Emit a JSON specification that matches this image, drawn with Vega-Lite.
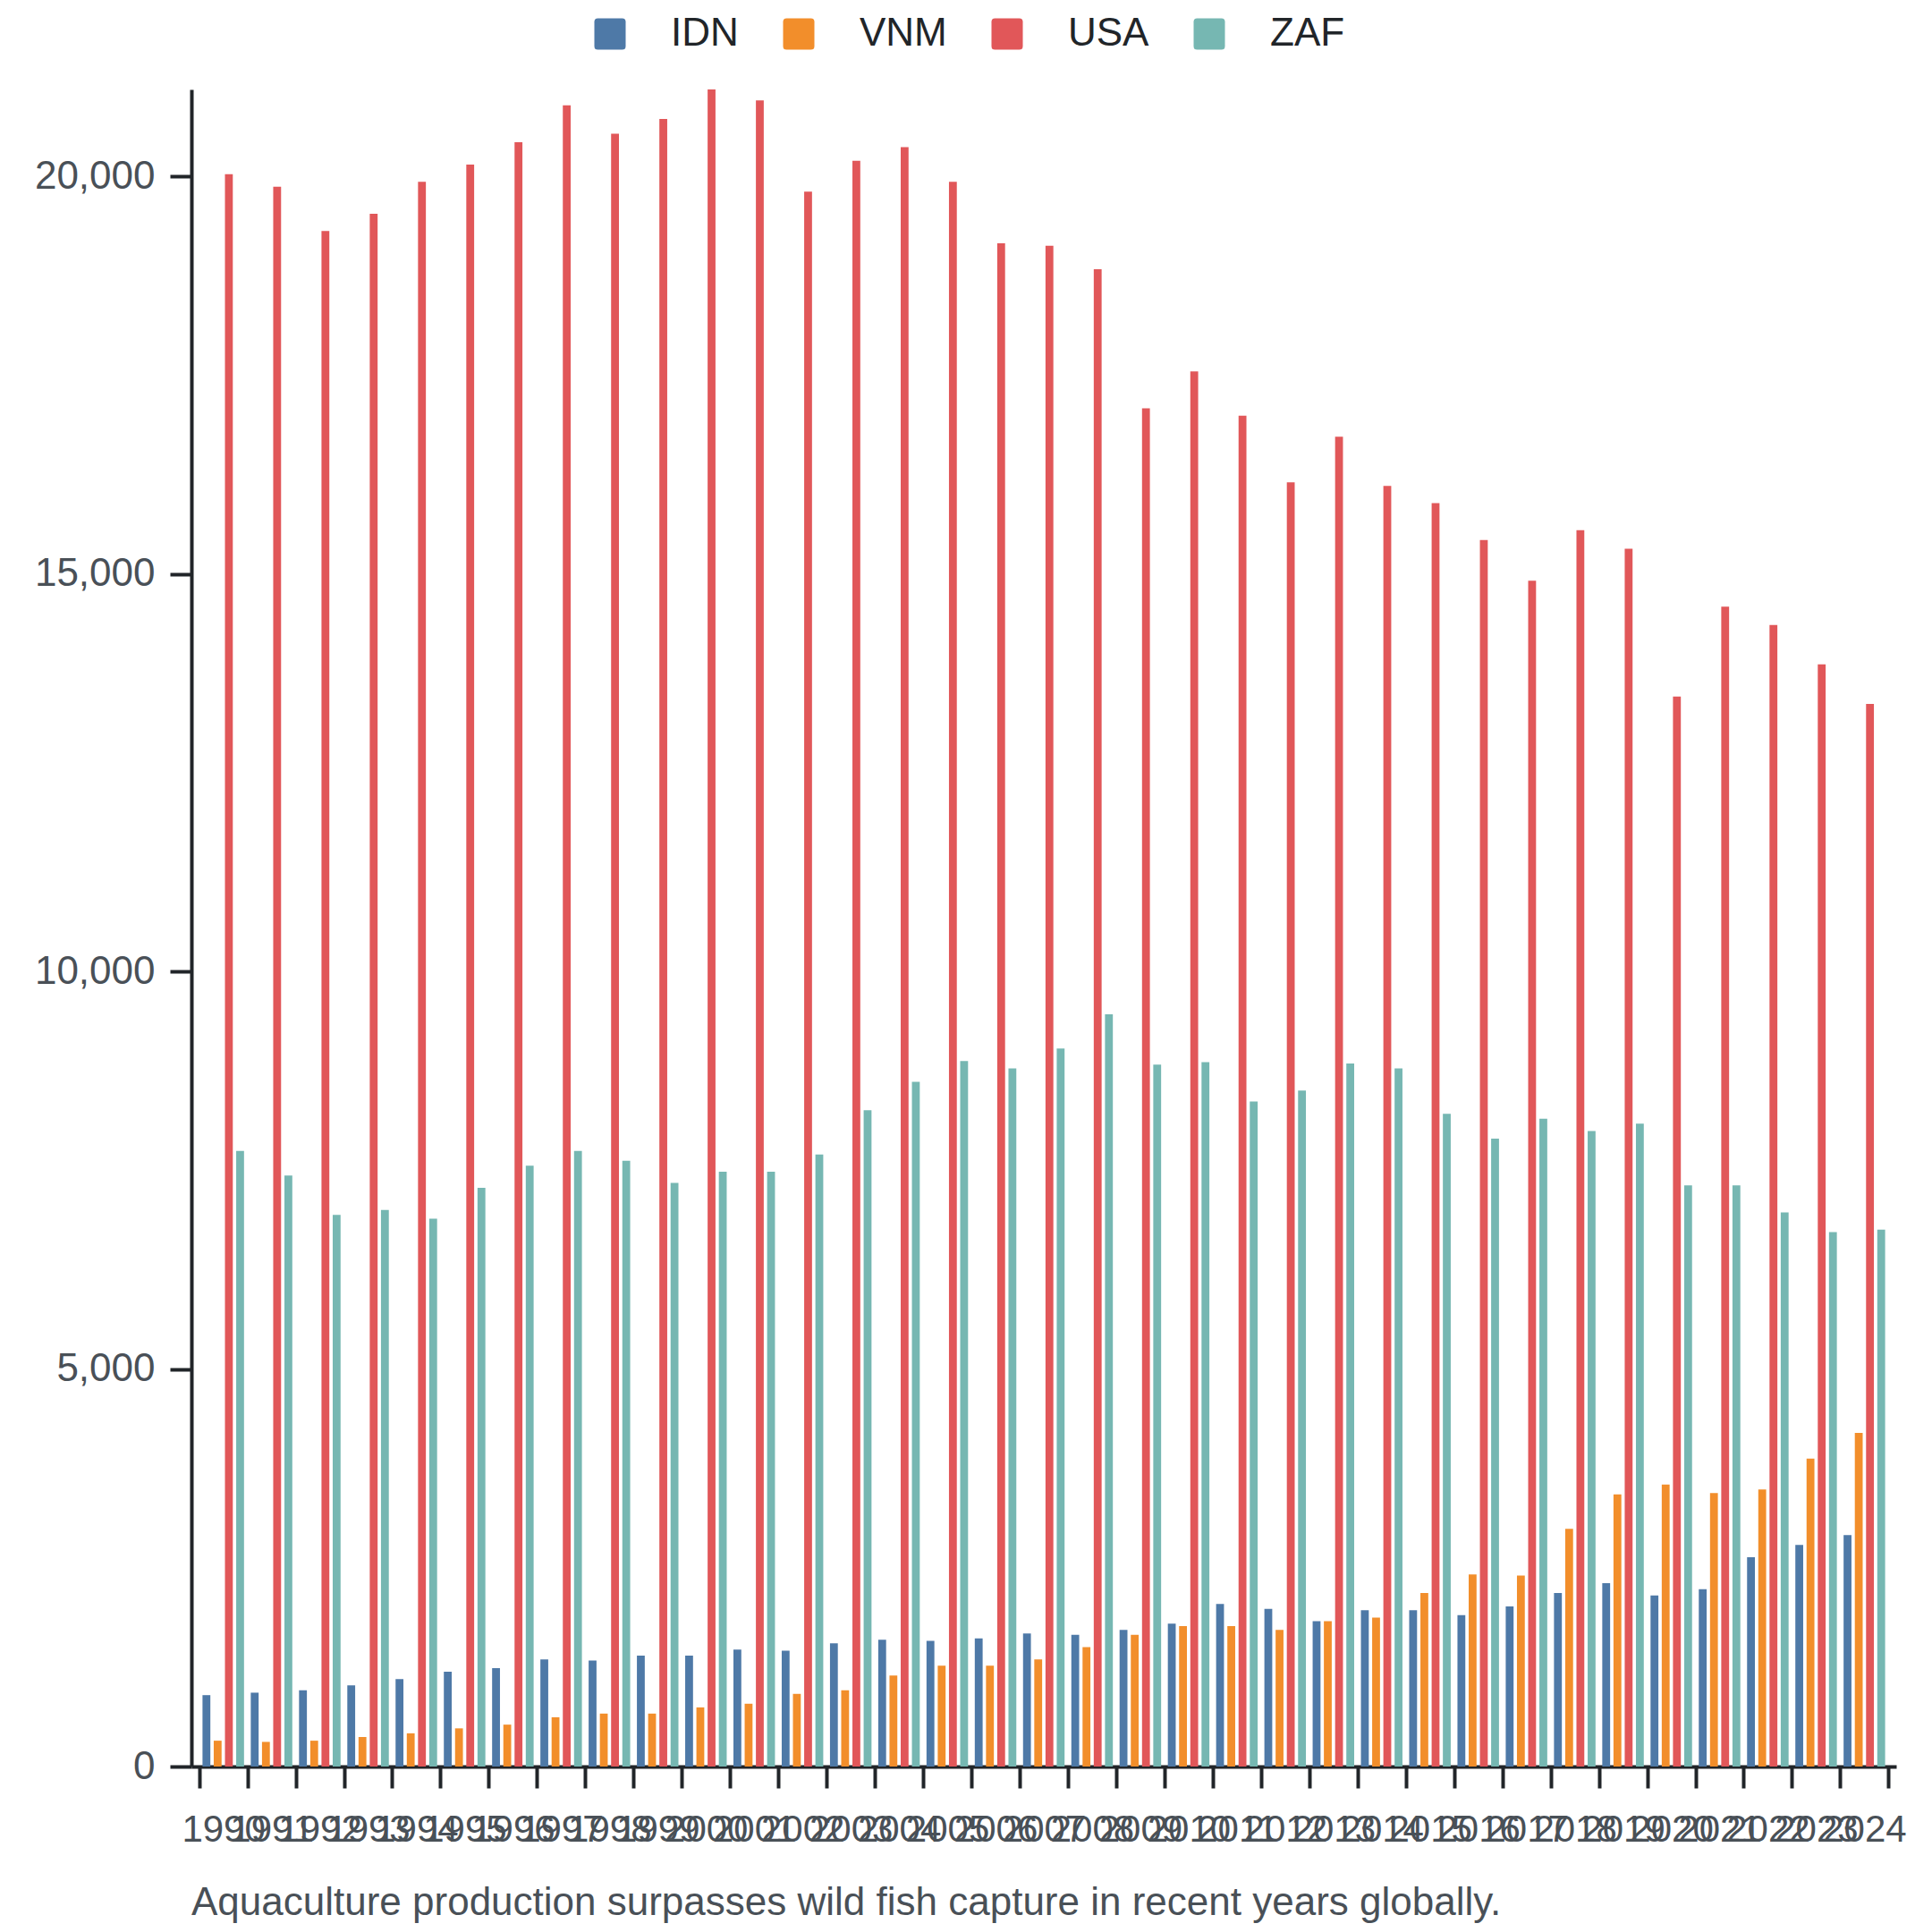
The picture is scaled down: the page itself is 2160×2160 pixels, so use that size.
{
  "$schema": "https://vega.github.io/schema/vega-lite/v6.json",
  "width": 1906,
  "height": 1875,
  "autosize": {"type": "none"},
  "padding": {"left": 214, "top": 100, "right": 40, "bottom": 185},
  "background": "white",
  "title": {
    "text": "Aquaculture production surpasses wild fish capture in recent years globally.",
    "orient": "bottom",
    "anchor": "start",
    "frame": "group",
    "offset": 40,
    "fontSize": 44,
    "fontWeight": "normal",
    "color": "#495057",
    "font": "Liberation Sans"
  },
  "data": {
    "values": [
      {"year": "1990", "country": "IDN", "value": 898}, {"year": "1990", "country": "VNM", "value": 325}, {"year": "1990", "country": "USA", "value": 20030}, {"year": "1990", "country": "ZAF", "value": 7745},
      {"year": "1991", "country": "IDN", "value": 929}, {"year": "1991", "country": "VNM", "value": 310}, {"year": "1991", "country": "USA", "value": 19874}, {"year": "1991", "country": "ZAF", "value": 7435},
      {"year": "1992", "country": "IDN", "value": 960}, {"year": "1992", "country": "VNM", "value": 325}, {"year": "1992", "country": "USA", "value": 19316}, {"year": "1992", "country": "ZAF", "value": 6940},
      {"year": "1993", "country": "IDN", "value": 1022}, {"year": "1993", "country": "VNM", "value": 372}, {"year": "1993", "country": "USA", "value": 19533}, {"year": "1993", "country": "ZAF", "value": 7001},
      {"year": "1994", "country": "IDN", "value": 1100}, {"year": "1994", "country": "VNM", "value": 418}, {"year": "1994", "country": "USA", "value": 19936}, {"year": "1994", "country": "ZAF", "value": 6893},
      {"year": "1995", "country": "IDN", "value": 1193}, {"year": "1995", "country": "VNM", "value": 480}, {"year": "1995", "country": "USA", "value": 20153}, {"year": "1995", "country": "ZAF", "value": 7280},
      {"year": "1996", "country": "IDN", "value": 1239}, {"year": "1996", "country": "VNM", "value": 527}, {"year": "1996", "country": "USA", "value": 20432}, {"year": "1996", "country": "ZAF", "value": 7559},
      {"year": "1997", "country": "IDN", "value": 1348}, {"year": "1997", "country": "VNM", "value": 620}, {"year": "1997", "country": "USA", "value": 20896}, {"year": "1997", "country": "ZAF", "value": 7745},
      {"year": "1998", "country": "IDN", "value": 1332}, {"year": "1998", "country": "VNM", "value": 666}, {"year": "1998", "country": "USA", "value": 20540}, {"year": "1998", "country": "ZAF", "value": 7621},
      {"year": "1999", "country": "IDN", "value": 1394}, {"year": "1999", "country": "VNM", "value": 666}, {"year": "1999", "country": "USA", "value": 20726}, {"year": "1999", "country": "ZAF", "value": 7342},
      {"year": "2000", "country": "IDN", "value": 1394}, {"year": "2000", "country": "VNM", "value": 744}, {"year": "2000", "country": "USA", "value": 21097}, {"year": "2000", "country": "ZAF", "value": 7482},
      {"year": "2001", "country": "IDN", "value": 1472}, {"year": "2001", "country": "VNM", "value": 790}, {"year": "2001", "country": "USA", "value": 20958}, {"year": "2001", "country": "ZAF", "value": 7482},
      {"year": "2002", "country": "IDN", "value": 1456}, {"year": "2002", "country": "VNM", "value": 914}, {"year": "2002", "country": "USA", "value": 19812}, {"year": "2002", "country": "ZAF", "value": 7698},
      {"year": "2003", "country": "IDN", "value": 1549}, {"year": "2003", "country": "VNM", "value": 960}, {"year": "2003", "country": "USA", "value": 20199}, {"year": "2003", "country": "ZAF", "value": 8256},
      {"year": "2004", "country": "IDN", "value": 1595}, {"year": "2004", "country": "VNM", "value": 1146}, {"year": "2004", "country": "USA", "value": 20370}, {"year": "2004", "country": "ZAF", "value": 8612},
      {"year": "2005", "country": "IDN", "value": 1580}, {"year": "2005", "country": "VNM", "value": 1270}, {"year": "2005", "country": "USA", "value": 19936}, {"year": "2005", "country": "ZAF", "value": 8876},
      {"year": "2006", "country": "IDN", "value": 1611}, {"year": "2006", "country": "VNM", "value": 1270}, {"year": "2006", "country": "USA", "value": 19161}, {"year": "2006", "country": "ZAF", "value": 8783},
      {"year": "2007", "country": "IDN", "value": 1673}, {"year": "2007", "country": "VNM", "value": 1348}, {"year": "2007", "country": "USA", "value": 19130}, {"year": "2007", "country": "ZAF", "value": 9031},
      {"year": "2008", "country": "IDN", "value": 1657}, {"year": "2008", "country": "VNM", "value": 1503}, {"year": "2008", "country": "USA", "value": 18836}, {"year": "2008", "country": "ZAF", "value": 9464},
      {"year": "2009", "country": "IDN", "value": 1719}, {"year": "2009", "country": "VNM", "value": 1657}, {"year": "2009", "country": "USA", "value": 17085}, {"year": "2009", "country": "ZAF", "value": 8829},
      {"year": "2010", "country": "IDN", "value": 1797}, {"year": "2010", "country": "VNM", "value": 1766}, {"year": "2010", "country": "USA", "value": 17550}, {"year": "2010", "country": "ZAF", "value": 8860},
      {"year": "2011", "country": "IDN", "value": 2045}, {"year": "2011", "country": "VNM", "value": 1766}, {"year": "2011", "country": "USA", "value": 16993}, {"year": "2011", "country": "ZAF", "value": 8365},
      {"year": "2012", "country": "IDN", "value": 1983}, {"year": "2012", "country": "VNM", "value": 1719}, {"year": "2012", "country": "USA", "value": 16156}, {"year": "2012", "country": "ZAF", "value": 8504},
      {"year": "2013", "country": "IDN", "value": 1828}, {"year": "2013", "country": "VNM", "value": 1828}, {"year": "2013", "country": "USA", "value": 16729}, {"year": "2013", "country": "ZAF", "value": 8845},
      {"year": "2014", "country": "IDN", "value": 1967}, {"year": "2014", "country": "VNM", "value": 1874}, {"year": "2014", "country": "USA", "value": 16110}, {"year": "2014", "country": "ZAF", "value": 8783},
      {"year": "2015", "country": "IDN", "value": 1967}, {"year": "2015", "country": "VNM", "value": 2184}, {"year": "2015", "country": "USA", "value": 15893}, {"year": "2015", "country": "ZAF", "value": 8210},
      {"year": "2016", "country": "IDN", "value": 1905}, {"year": "2016", "country": "VNM", "value": 2416}, {"year": "2016", "country": "USA", "value": 15428}, {"year": "2016", "country": "ZAF", "value": 7900},
      {"year": "2017", "country": "IDN", "value": 2014}, {"year": "2017", "country": "VNM", "value": 2401}, {"year": "2017", "country": "USA", "value": 14917}, {"year": "2017", "country": "ZAF", "value": 8148},
      {"year": "2018", "country": "IDN", "value": 2184}, {"year": "2018", "country": "VNM", "value": 2990}, {"year": "2018", "country": "USA", "value": 15552}, {"year": "2018", "country": "ZAF", "value": 7993},
      {"year": "2019", "country": "IDN", "value": 2308}, {"year": "2019", "country": "VNM", "value": 3423}, {"year": "2019", "country": "USA", "value": 15320}, {"year": "2019", "country": "ZAF", "value": 8086},
      {"year": "2020", "country": "IDN", "value": 2153}, {"year": "2020", "country": "VNM", "value": 3547}, {"year": "2020", "country": "USA", "value": 13461}, {"year": "2020", "country": "ZAF", "value": 7311},
      {"year": "2021", "country": "IDN", "value": 2231}, {"year": "2021", "country": "VNM", "value": 3439}, {"year": "2021", "country": "USA", "value": 14592}, {"year": "2021", "country": "ZAF", "value": 7311},
      {"year": "2022", "country": "IDN", "value": 2633}, {"year": "2022", "country": "VNM", "value": 3485}, {"year": "2022", "country": "USA", "value": 14359}, {"year": "2022", "country": "ZAF", "value": 6970},
      {"year": "2023", "country": "IDN", "value": 2788}, {"year": "2023", "country": "VNM", "value": 3873}, {"year": "2023", "country": "USA", "value": 13864}, {"year": "2023", "country": "ZAF", "value": 6723},
      {"year": "2024", "country": "IDN", "value": 2912}, {"year": "2024", "country": "VNM", "value": 4198}, {"year": "2024", "country": "USA", "value": 13368}, {"year": "2024", "country": "ZAF", "value": 6754}
    ]
  },
  "mark": {"type": "bar"},
  "encoding": {
    "x": {
      "field": "year",
      "type": "ordinal",
      "scale": {"paddingInner": 0, "paddingOuter": 0.16},
      "axis": {
        "title": null,
        "labelAngle": 0,
        "labelOverlap": false,
        "labelFontSize": 42,
        "labelColor": "#495057",
        "labelPadding": 26,
        "tickBand": "extent",
        "tickSize": 24,
        "tickWidth": 4,
        "tickColor": "#212529",
        "domainColor": "#212529",
        "domainWidth": 4
      }
    },
    "xOffset": {
      "field": "country",
      "type": "nominal",
      "scale": {"domain": ["IDN", "VNM", "USA", "ZAF"], "paddingInner": 0.3, "paddingOuter": 0.3}
    },
    "y": {
      "field": "value",
      "type": "quantitative",
      "scale": {"nice": false, "zero": true},
      "axis": {
        "title": null,
        "grid": false,
        "values": [0, 5000, 10000, 15000, 20000],
        "format": ",.0f",
        "labelFontSize": 44,
        "labelColor": "#495057",
        "labelPadding": 17,
        "tickSize": 24,
        "tickWidth": 4,
        "tickColor": "#212529",
        "domainColor": "#212529",
        "domainWidth": 4
      }
    },
    "color": {
      "field": "country",
      "type": "nominal",
      "scale": {
        "domain": ["IDN", "VNM", "USA", "ZAF"],
        "range": ["#4e79a7", "#f28e2b", "#e15759", "#76b7b2"]
      },
      "legend": {
        "title": null,
        "orient": "none",
        "direction": "horizontal",
        "legendX": 446,
        "legendY": -84,
        "padding": 0,
        "symbolType": "M -0.78 -1 H 0.78 Q 1 -1 1 -0.78 V 0.78 Q 1 1 0.78 1 H -0.78 Q -1 1 -1 0.78 V -0.78 Q -1 -1 -0.78 -1 Z",
        "symbolSize": 1225,
        "symbolStrokeWidth": 0,
        "symbolOpacity": 1,
        "labelFontSize": 44,
        "labelColor": "#212529",
        "labelOffset": 46,
        "columnPadding": 45
      }
    }
  },
  "config": {
    "font": "Liberation Sans",
    "view": {"stroke": null}
  }
}
